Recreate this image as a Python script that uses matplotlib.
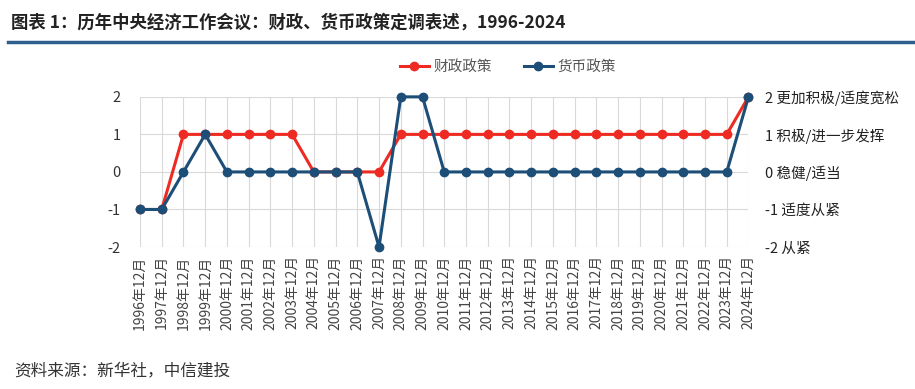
import matplotlib
matplotlib.use("Agg")
import matplotlib.pyplot as plt
from matplotlib.lines import Line2D

plt.rcParams['font.family'] = ['Noto Sans CJK SC', 'DejaVu Sans']

years = list(range(1996, 2025))
xlabels = [f"{y}年12月" for y in years]
fiscal = [-1, -1, 1, 1, 1, 1, 1, 1, 0, 0, 0, 0, 1, 1, 1, 1, 1, 1, 1, 1, 1, 1, 1, 1, 1, 1, 1, 1, 2]
monetary = [-1, -1, 0, 1, 0, 0, 0, 0, 0, 0, 0, -2, 2, 2, 0, 0, 0, 0, 0, 0, 0, 0, 0, 0, 0, 0, 0, 0, 2]
left_ticks = [-2, -1, 0, 1, 2]
right_labels = ["-2 从紧", "-1 适度从紧", "0 稳健/适当", "1 积极/进一步发挥", "2 更加积极/适度宽松"]

red = "#EE2B22"
blue = "#1C4E78"

fig = plt.figure(figsize=(9.15, 3.89), dpi=100)
ax = fig.add_axes([0.153, 0.365, 0.665, 0.386])
x = list(range(len(years)))
ax.plot(x, fiscal, color=red, lw=2.2, marker='o', ms=6, zorder=3, clip_on=False)
ax.plot(x, monetary, color=blue, lw=2.2, marker='o', ms=6, zorder=4, clip_on=False)
ax.set_xlim(0, len(years) - 1)
ax.set_ylim(-2, 2)
ax.set_yticks(left_ticks)
ax.set_yticklabels([str(v) for v in left_ticks], fontsize=10.5, color="#333333")
ax.set_xticks(x)
ax.set_xticklabels(xlabels, rotation=90, fontsize=10, color="#444444")
ax.grid(True, color="#D9D9D9", lw=0.8)
ax.set_axisbelow(True)
for s in ax.spines.values():
    s.set_visible(False)
ax.tick_params(length=0, pad=14, axis='y')
ax.tick_params(length=0, pad=6, axis='x')

ax2 = ax.twinx()
ax2.set_ylim(-2, 2)
ax2.set_yticks(left_ticks)
ax2.set_yticklabels(right_labels, fontsize=10.5, color="#222222")
for s in ax2.spines.values():
    s.set_visible(False)
ax2.tick_params(length=0, pad=12)

handles = [Line2D([0], [0], color=red, lw=2.2, marker='o', ms=6),
           Line2D([0], [0], color=blue, lw=2.2, marker='o', ms=6)]
fig.legend(handles, ["财政政策", "货币政策"], loc='center', bbox_to_anchor=(0.555, 0.828),
           ncol=2, frameon=False, fontsize=10.5, handlelength=2.0, handletextpad=0.3,
           columnspacing=2.2, labelcolor="#555555")

fig.text(0.012, 0.943, "图表 1：历年中央经济工作会议：财政、货币政策定调表述，1996-2024",
         fontsize=12.5, fontweight='bold', color="#222222", va='center')
fig.add_artist(Line2D([0.009, 1.0], [0.892, 0.892], color="#2F5F8F", lw=2.5,
                      transform=fig.transFigure))
fig.text(0.016, 0.048, "资料来源：新华社，中信建投", fontsize=12, style='italic',
         color="#333333", va='center')

fig.savefig("out.png", dpi=100)
